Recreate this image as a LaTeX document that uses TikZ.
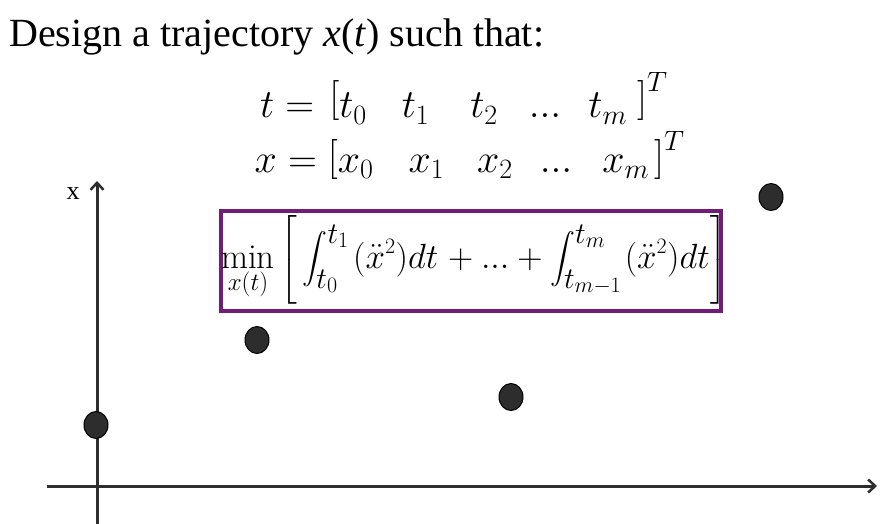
\RequirePackage{fix-cm}
\documentclass[tikz,border=0pt]{standalone}
\usepackage{amsmath}
\usepackage{exscale}
\usepackage{fontspec}
\newfontfamily\timesfont{Liberation Serif}
\usetikzlibrary{arrows.meta,shapes.geometric}
\DeclareMathSizes{40}{40}{28}{20}
\DeclareMathSizes{35}{35}{30}{22}
\DeclareMathSizes{25}{25}{18}{13}
\definecolor{boxpurple}{RGB}{112,28,120}
\definecolor{axisgray}{RGB}{45,45,45}
\tikzset{
  axisline/.style={draw=axisgray, line width=3pt, -{Straight Barb[length=7pt,width=13pt,line width=2.5pt]}},
  datadot/.style={ellipse, draw=black, line width=1pt, fill=axisgray, minimum width=24pt, minimum height=27pt, inner sep=0pt},
  mathline/.style={anchor=base west, inner sep=0pt, font=\fontsize{40}{46}\selectfont},
}
\newcommand{\gapp}[1]{\hspace{#1pt}}
\newcommand{\sqx}{(\ddot{x}^{\scriptscriptstyle 2})dt}
\newcommand{\bigbrack}[1]{\hbox{\fontsize{32}{32}\selectfont$\left#1\vcenter to 90pt{}\right.$}}
\newcommand{\minsub}{\hbox{\fontsize{25}{25}\selectfont$x(t)$}}
\begin{document}
\begin{tikzpicture}[x=1pt,y=-1pt]
\useasboundingbox (0,0) rectangle (889,524);
% title
\node[anchor=base west, inner sep=0pt, font=\timesfont\fontsize{40}{46}\selectfont] (title) at (9,47) {Design a trajectory \textit{x}(\textit{t}) such that:};
% vectors
\node[mathline] (tvec) at (260,118) {$t = \gapp{4}\raisebox{7pt}{$[$}t_0 \gapp{35} t_1 \gapp{41} t_2 \gapp{31} ... \gapp{27} t_m \gapp{10}\raisebox{7pt}{$]$}^T$};
\node[mathline] (xvec) at (254.5,172) {$x = \raisebox{2pt}{$[$}x_0 \gapp{35} x_1 \gapp{33} x_2 \gapp{27} ... \gapp{30} x_m \gapp{5}\raisebox{2pt}{$]$}^T$};
% objective box
\draw[boxpurple, line width=3.5pt] (221,211) rectangle (721,311);
\node[anchor=base west, inner sep=0pt, font=\fontsize{35}{38}\selectfont] (obj) at (221,268) {$\displaystyle \min_{\minsub} \gapp{6}\mathopen{\bigbrack{[}}\gapp{4}\int_{t_0}^{t_1}\gapp{4} \sqx \gapp{2}+ ... + \int_{t_{m-1}}^{t_m}\gapp{3} \sqx \gapp{1}\mathclose{\bigbrack{]}}$};
% axes
\coordinate (ybot) at (97,524);
\coordinate (ytop) at (97,181);
\coordinate (xleft) at (47,486);
\coordinate (xright) at (877,486);
\draw[axisline] (ybot) -- (ytop);
\draw[axisline] (xleft) -- (xright);
\node[anchor=base, inner sep=0pt, font=\timesfont\fontsize{26}{30}\selectfont] (xlabel) at (73,200) {x};
% data points
\node[datadot] (p0) at (96,425) {};
\node[datadot] (p1) at (257,340) {};
\node[datadot] (p2) at (511,397) {};
\node[datadot] (p3) at (771,197) {};
\end{tikzpicture}
\end{document}
